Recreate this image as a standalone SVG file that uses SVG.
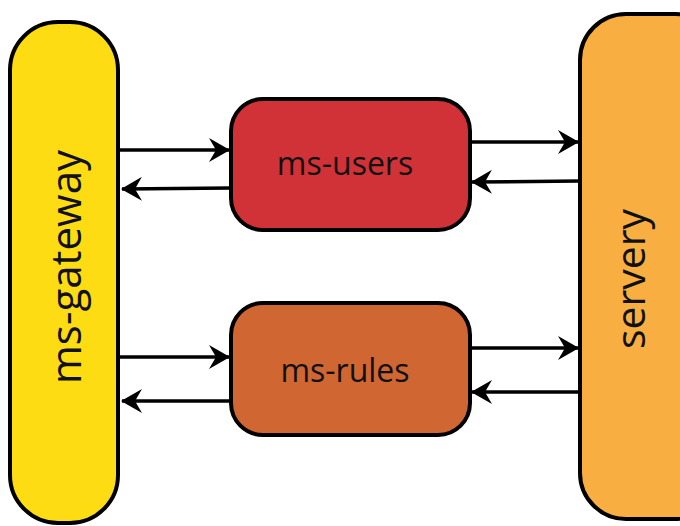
<svg xmlns="http://www.w3.org/2000/svg" width="680" height="526" viewBox="0 0 680 526">
<style>
.node{stroke:#000;stroke-width:4}
.lbl{font-family:"Open Sans","Liberation Sans",sans-serif;fill:#111}
.edge{stroke:#000;stroke-width:3.5;fill:none}
</style>
<defs>
<marker id="ah" markerWidth="22" markerHeight="24" refX="20" refY="12" orient="auto" markerUnits="userSpaceOnUse">
<path d="M0,0 L21,12 L0,24 L7,12 Z" fill="#000"/>
</marker>
</defs>
<rect width="680" height="526" fill="#fff"/>
<g id="ms-gateway">
<rect class="node" x="10" y="22" width="108" height="501" rx="48" fill="#FDDC14"/>
<text class="lbl" font-size="42" transform="translate(81,267) rotate(-90)" text-anchor="middle">ms-gateway</text>
</g>
<g id="servery">
<rect class="node" x="580" y="14" width="141" height="505" rx="46" fill="#F9AE42"/>
<text class="lbl" font-size="41" transform="translate(645,279) rotate(-90)" text-anchor="middle">servery</text>
</g>
<g id="ms-users">
<rect class="node" x="231" y="99" width="239" height="131" rx="32" fill="#D03238"/>
<text class="lbl" font-size="32" x="345" y="175" text-anchor="middle">ms-users</text>
</g>
<g id="ms-rules">
<rect class="node" x="231" y="303" width="239" height="132" rx="32" fill="#D06632"/>
<text class="lbl" font-size="32" x="345" y="382" text-anchor="middle">ms-rules</text>
</g>
<g id="connectors">
<line class="edge" x1="119" y1="150" x2="229" y2="150" marker-end="url(#ah)"/>
<line class="edge" x1="231" y1="188" x2="122" y2="189" marker-end="url(#ah)"/>
<line class="edge" x1="471" y1="142" x2="578" y2="142" marker-end="url(#ah)"/>
<line class="edge" x1="580" y1="181" x2="472" y2="182" marker-end="url(#ah)"/>
<line class="edge" x1="119" y1="357" x2="229" y2="357" marker-end="url(#ah)"/>
<line class="edge" x1="231" y1="401" x2="122" y2="401" marker-end="url(#ah)"/>
<line class="edge" x1="471" y1="348" x2="578" y2="348" marker-end="url(#ah)"/>
<line class="edge" x1="580" y1="392" x2="472" y2="392" marker-end="url(#ah)"/>
</g>
</svg>
